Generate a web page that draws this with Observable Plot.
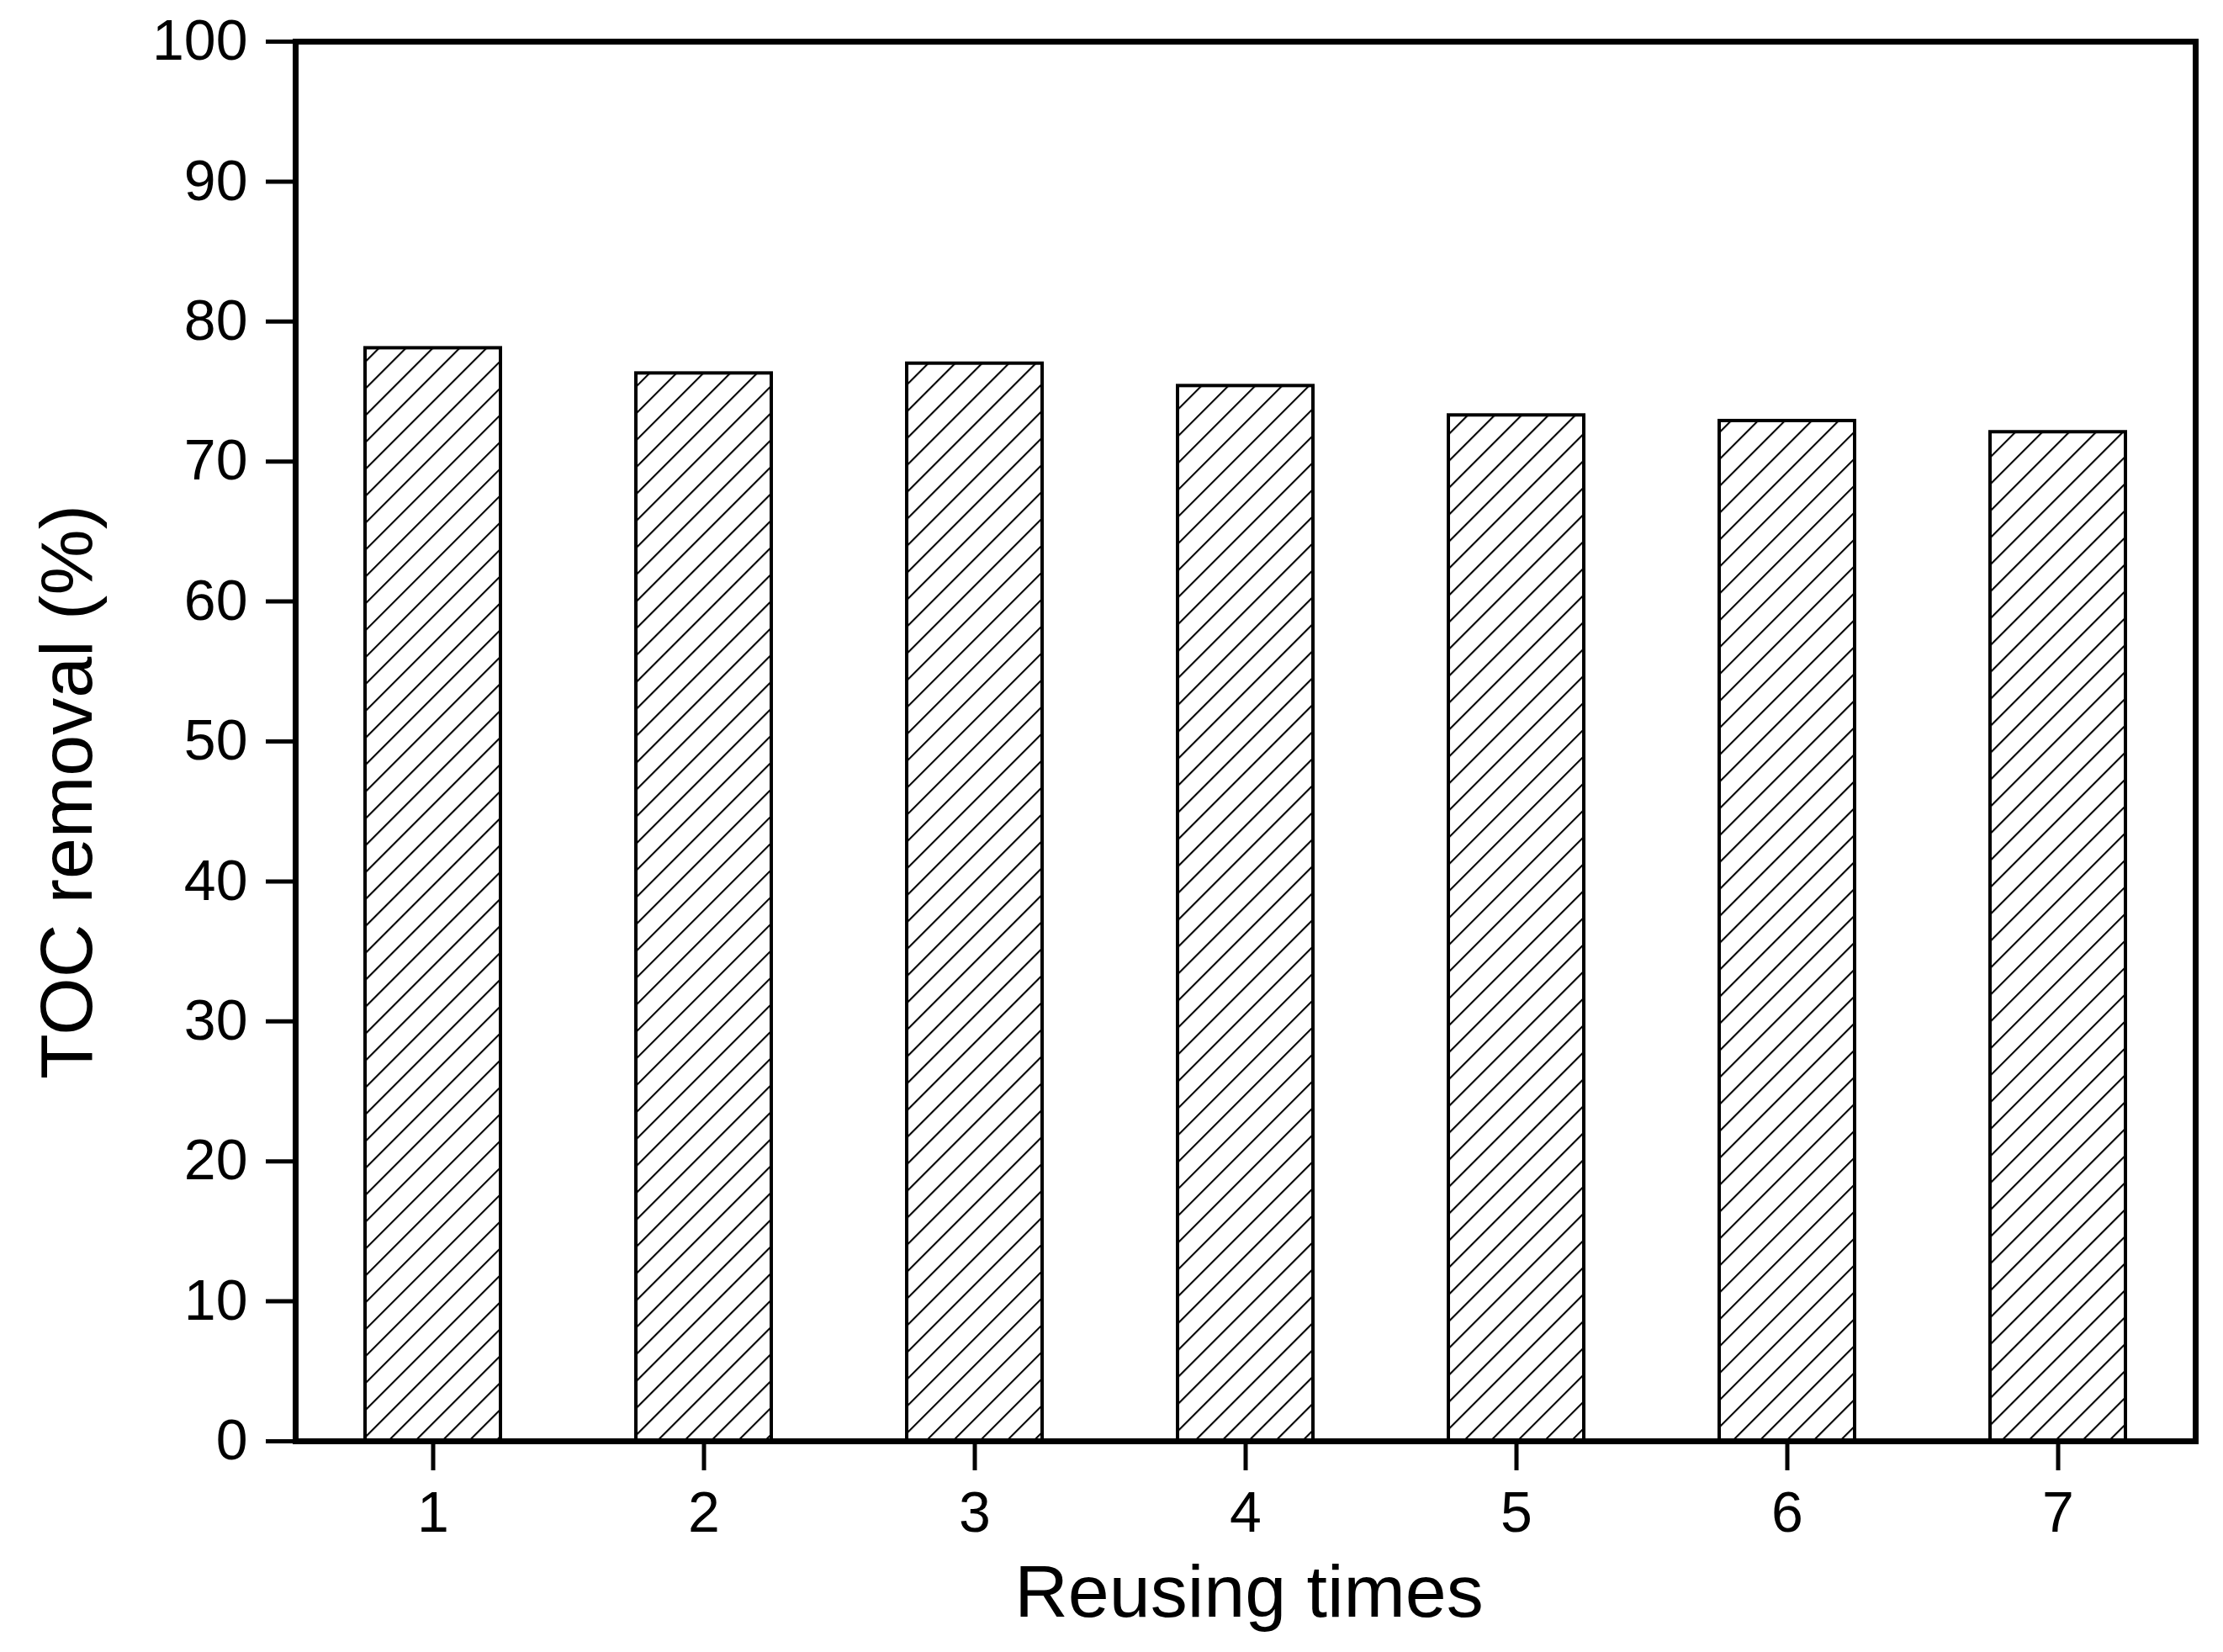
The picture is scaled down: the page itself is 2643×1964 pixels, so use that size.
<!DOCTYPE html>
<html>
<head>
<meta charset="utf-8">
<script src="https://cdn.jsdelivr.net/npm/d3@7"></script>
<script src="https://cdn.jsdelivr.net/npm/@observablehq/plot@0.6"></script>
<style>
  html, body { margin: 0; padding: 0; background: #fff; }
  #chart svg { display: block; }
</style>
</head>
<body>
<div id="chart"></div>
<script>
const runs = ["1", "2", "3", "4", "5", "6", "7"];
const removal = [78.1, 76.3, 77.0, 75.4, 73.3, 72.9, 72.1];
const yTicks = [0, 10, 20, 30, 40, 50, 60, 70, 80, 90, 100];
const xTitle = "Reusing times";
const yTitle = "TOC removal (%)";

const data = runs.map((r, i) => ({run: r, value: removal[i]}));

const font = "'Liberation Sans', Arial, Helvetica, sans-serif";

const hatchDefs = () => {
  const defs = d3.create("svg:defs");
  const p = defs.append("pattern")
    .attr("id", "hatch")
    .attr("patternUnits", "userSpaceOnUse")
    .attr("width", 22.6)
    .attr("height", 22.6)
    .attr("patternTransform", "rotate(45)");
  p.append("rect").attr("width", 22.6).attr("height", 22.6).attr("fill", "white");
  p.append("line")
    .attr("x1", 1).attr("y1", 0).attr("x2", 1).attr("y2", 22.6)
    .attr("stroke", "black").attr("stroke-width", 2.2);
  return defs.node();
};

const chart = Plot.plot({
  width: 2643,
  height: 1964,
  marginLeft: 351,
  marginRight: 33,
  marginTop: 49,
  marginBottom: 251,
  style: {fontFamily: font, background: "white", color: "black"},
  x: {type: "band", domain: runs, paddingInner: 0.5, paddingOuter: 0.25},
  y: {domain: [0, 100]},
  marks: [
    hatchDefs,
    Plot.barY(data, {x: "run", y: "value", fill: "url(#hatch)", stroke: "black", strokeWidth: 4}),
    Plot.frame({stroke: "black", strokeWidth: 7}),
    Plot.axisY({ticks: yTicks, tickSize: 35, tickPadding: 22, strokeWidth: 5, fontSize: 68, label: null}),
    Plot.axisX({tickSize: 35, tickPadding: 24, strokeWidth: 5, fontSize: 68, label: null}),
    Plot.text([xTitle], {frameAnchor: "bottom", dy: 180, dx: 4, lineAnchor: "middle", textAnchor: "middle", fontSize: 88, text: d => d}),
    Plot.text([yTitle], {frameAnchor: "left", rotate: -90, dx: -271, dy: 60, lineAnchor: "middle", textAnchor: "middle", fontSize: 88, text: d => d})
  ]
});

document.getElementById("chart").appendChild(chart);
</script>
</body>
</html>
